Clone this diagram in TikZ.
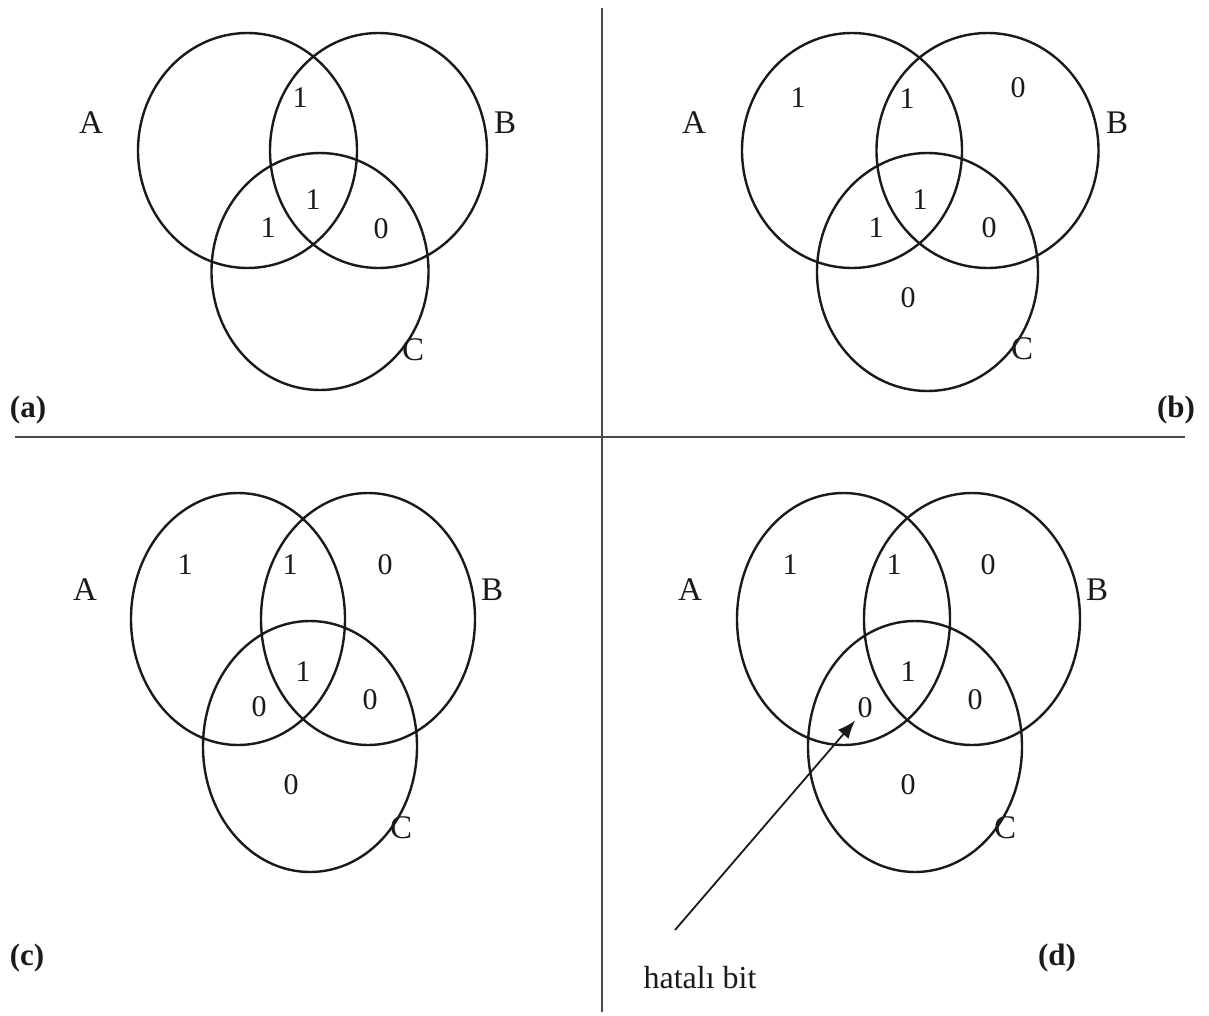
\documentclass[tikz,border=0pt]{standalone}
\usepackage{fontspec}
\setmainfont{Liberation Serif}
\usetikzlibrary{arrows.meta,positioning}
\definecolor{ink}{HTML}{1A1A1A}
\definecolor{rule}{HTML}{4A4A4A}
\tikzset{
  ring/.style={draw=ink, line width=1.2pt},
  bit/.style={font=\fontsize{15}{17}\selectfont, inner sep=1pt, text=ink},
  setname/.style={font=\fontsize{16.5}{18}\selectfont, inner sep=1pt, text=ink},
  panel/.style={font=\fontsize{15.5}{17}\selectfont\bfseries, inner sep=1pt, text=ink},
  divider/.style={draw=rule, line width=1.3pt},
  errarrow/.style={-{Latex[length=9pt,width=7pt]}, draw=ink, line width=0.9pt},
}

\begin{document}
\begin{tikzpicture}[x=0.5pt,y=-0.5pt]
  \useasboundingbox (0,0) rectangle (1209,1016);
  \fill[white] (0,0) rectangle (1209,1016);
  % dividers
  \draw[divider] (602,8) -- (602,1012);
  \draw[divider] (15,437) -- (1185,437);

  % (a)
  \draw[ring] (247.5,150.5) ellipse (109.5 and 117.5);
  \draw[ring] (378.5,150.5) ellipse (108.5 and 117.5);
  \draw[ring] (320,271.5) ellipse (108.5 and 118.5);
  \node[setname] (aA) at (91,123) {A};
  \node[setname] (aB) at (505,123) {B};
  \node[setname] (aC) at (413,350) {C};
  \node[bit] (aAB) at (300,98) {1};
  \node[bit] (aABC) at (313,200) {1};
  \node[bit] (aAC) at (268,228) {1};
  \node[bit] (aBC) at (381,229) {0};
  \node[panel] (pa) at (28,410) {(a)};

  % (b)
  \draw[ring] (852,150.5) ellipse (110 and 117.5);
  \draw[ring] (987.5,150.5) ellipse (111 and 117.5);
  \draw[ring] (927.5,272) ellipse (110.5 and 119);
  \node[setname] (bA) at (694,123) {A};
  \node[setname] (bB) at (1117,123) {B};
  \node[setname] (bC) at (1022,349) {C};
  \node[bit] (b1) at (798,98) {1};
  \node[bit] (bAB) at (907,99) {1};
  \node[bit] (b2) at (1018,88) {0};
  \node[bit] (bABC) at (920,200) {1};
  \node[bit] (bAC) at (876,228) {1};
  \node[bit] (bBC) at (989,228) {0};
  \node[bit] (b4) at (908,298) {0};
  \node[panel] (pb) at (1176,410) {(b)};

  % (c)
  \draw[ring] (238,619) ellipse (107 and 126);
  \draw[ring] (368,619) ellipse (107 and 126);
  \draw[ring] (310,746.5) ellipse (107 and 125.5);
  \node[setname] (cA) at (85,590) {A};
  \node[setname] (cB) at (492,590) {B};
  \node[setname] (cC) at (401,828) {C};
  \node[bit] (c1) at (185,565) {1};
  \node[bit] (cAB) at (290,565) {1};
  \node[bit] (c2) at (385,565) {0};
  \node[bit] (cABC) at (303,672) {1};
  \node[bit] (cAC) at (259,707) {0};
  \node[bit] (cBC) at (370,700) {0};
  \node[bit] (c4) at (291,785) {0};
  \node[panel] (pc) at (27,958) {(c)};

  % (d)
  \draw[ring] (843.5,619) ellipse (106.5 and 126);
  \draw[ring] (972,619) ellipse (108 and 126);
  \draw[ring] (915,746.5) ellipse (107 and 125.5);
  \node[setname] (dA) at (690,590) {A};
  \node[setname] (dB) at (1097,590) {B};
  \node[setname] (dC) at (1005,828) {C};
  \node[bit] (d1) at (790,565) {1};
  \node[bit] (dAB) at (894,565) {1};
  \node[bit] (d2) at (988,565) {0};
  \node[bit] (dABC) at (908,672) {1};
  \node[bit] (dAC) at (865,708) {0};
  \node[bit] (dBC) at (975,700) {0};
  \node[bit] (d4) at (908,785) {0};
  \node[panel] (pd) at (1057,958) {(d)};
  \node[setname, font=\fontsize{16}{18}\selectfont] (err) at (700,978) {hatalı bit};
  \coordinate (errtail) at (675,930);
  \draw[errarrow] (errtail) -- (dAC.south west);
\end{tikzpicture}
\end{document}
